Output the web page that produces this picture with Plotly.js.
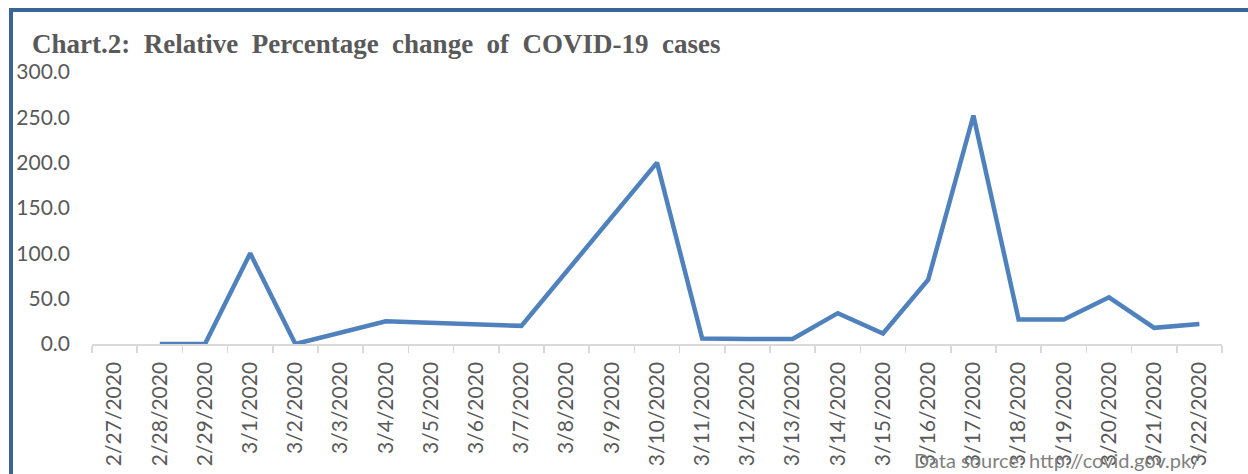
<!DOCTYPE html>
<html>
<head>
<meta charset="utf-8">
<script src="https://cdn.plot.ly/plotly-3.0.1.min.js"></script>
<style>
  html, body { margin: 0; padding: 0; background: #ffffff; }
  #chart { width: 1248px; height: 474px; }
</style>
</head>
<body>
<div id="chart"></div>
<script>
// Categories (dates)
var dates = ["2/27/2020", "2/28/2020", "2/29/2020", "3/1/2020", "3/2/2020", "3/3/2020",
  "3/4/2020", "3/5/2020", "3/6/2020", "3/7/2020", "3/8/2020", "3/9/2020", "3/10/2020",
  "3/11/2020", "3/12/2020", "3/13/2020", "3/14/2020", "3/15/2020", "3/16/2020",
  "3/17/2020", "3/18/2020", "3/19/2020", "3/20/2020", "3/21/2020", "3/22/2020"];

// Relative percentage change (null = no value; line connects over gaps)
var pctChange = [null, 0, 0, 100, 0, null,
  25, null, null, 20, null, null, 200,
  6, 5.6, 5.5, 34, 11.5, 71,
  252, 27, 27, 51.5, 17.8, 22];

// Y-axis tick values
var yTicks = [0, 50, 100, 150, 200, 250, 300];

var titleWords = ["Chart.2:", "Relative", "Percentage", "change", "of", "COVID-19", "cases"];
var sourceText = "Data source: http://covid.gov.pk/";

var labelFont = { family: "Lato, 'Open Sans', sans-serif", size: 21, color: "#595959" };

var trace = {
  type: "scatter",
  mode: "lines",
  x: dates,
  y: pctChange,
  connectgaps: true,
  line: { color: "#4f81bd", width: 4.5 },
  hoverinfo: "skip",
  showlegend: false
};

var layout = {
  width: 1248,
  height: 474,
  margin: { l: 92, r: 26, t: 72, b: 130, pad: 0 },
  paper_bgcolor: "#ffffff",
  plot_bgcolor: "#ffffff",
  showlegend: false,
  hovermode: false,
  title: {
    text: "<b>" + titleWords.join("\u00a0 ") + "</b>",
    font: { family: "'Liberation Serif', 'Times New Roman', serif", size: 27, color: "#595959" },
    xref: "container",
    yref: "container",
    x: 32 / 1248,
    xanchor: "left",
    y: 1 - 44 / 474,
    yanchor: "middle"
  },
  xaxis: {
    type: "category",
    categoryorder: "array",
    categoryarray: dates,
    range: [-0.5, dates.length - 0.5],
    showline: true,
    linecolor: "#d9d9d9",
    linewidth: 1.5,
    showgrid: false,
    zeroline: false,
    ticks: "outside",
    tickson: "boundaries",
    ticklen: 7,
    tickwidth: 1.5,
    tickcolor: "#d9d9d9",
    tickangle: -90,
    tickfont: labelFont,
    ticklabelstandoff: 8,
    fixedrange: true
  },
  yaxis: {
    range: [0, 300],
    tickvals: yTicks,
    ticktext: yTicks.map(function (v) { return v.toFixed(1); }),
    showline: false,
    showgrid: false,
    zeroline: false,
    ticks: "",
    tickfont: labelFont,
    ticklabelstandoff: 21,
    fixedrange: true
  },
  shapes: [
    {
      type: "line", xref: "paper", yref: "paper",
      x0: (11 - 92) / 1130, x1: (1260 - 92) / 1130,
      y0: (344 - 10) / 272, y1: (344 - 10) / 272,
      line: { color: "#3b6496", width: 4 }
    },
    {
      type: "line", xref: "paper", yref: "paper",
      x0: (11 - 92) / 1130, x1: (11 - 92) / 1130,
      y0: (344 - 8) / 272, y1: (344 - 490) / 272,
      line: { color: "#3b6496", width: 4 }
    }
  ],
  annotations: [
    {
      text: sourceText,
      xref: "paper", yref: "paper",
      x: (1202 - 92) / 1130, xanchor: "right",
      y: (344 - 474) / 272, yanchor: "bottom",
      showarrow: false,
      font: { family: "Lato, 'Open Sans', sans-serif", size: 20, color: "#7f7f7f" }
    }
  ]
};

Plotly.newPlot("chart", [trace], layout, { displayModeBar: false, staticPlot: true });
</script>
</body>
</html>
